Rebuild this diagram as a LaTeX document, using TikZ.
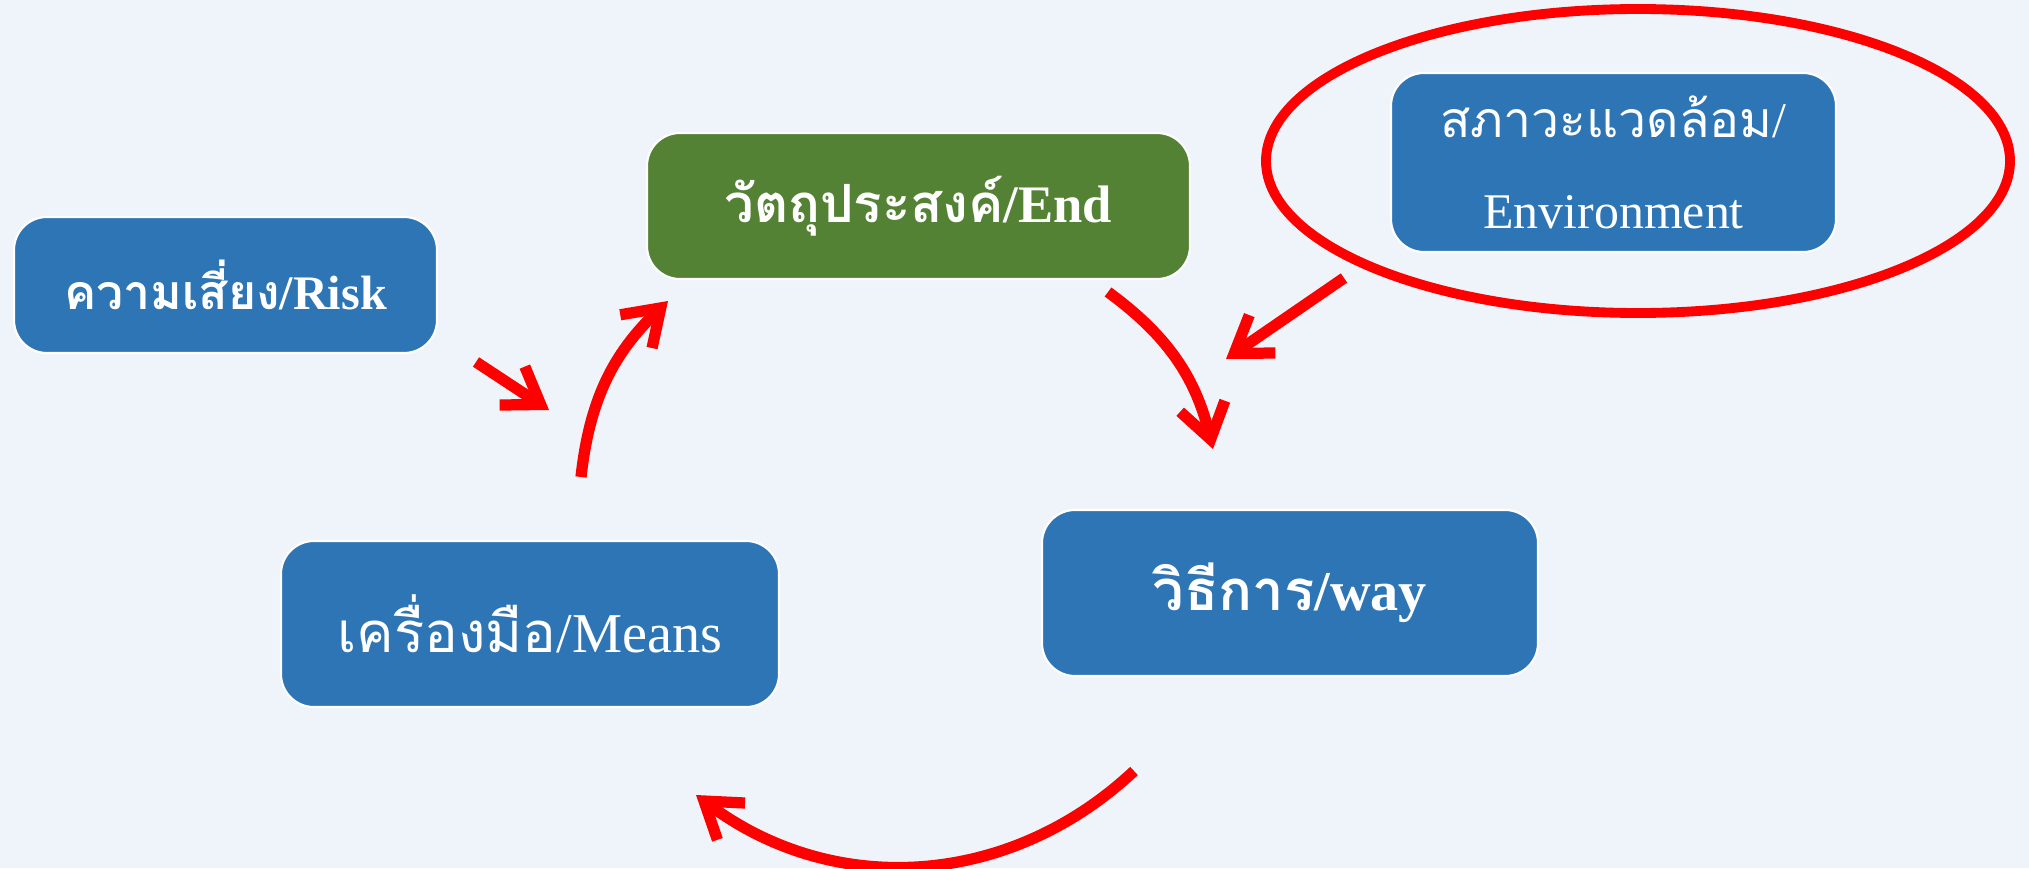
\documentclass[tikz,border=0pt]{standalone}
\usepackage{fontspec}
\setmainfont{Liberation Serif}
\newfontfamily\thaifont[Script=Thai]{Loma}
\usetikzlibrary{arrows.meta}

\definecolor{bgblue}{HTML}{EFF4FB}
\definecolor{boxblue}{HTML}{2E75B6}
\definecolor{boxgreen}{HTML}{548235}

\begin{document}
\begin{tikzpicture}[
  box/.style={rectangle, rounded corners=0.33cm, draw=white, line width=0.6pt, text=white, inner sep=0pt, align=center},
  redarrow/.style={draw=red, line width=3.2pt, -{Straight Barb[length=0.34cm, width=0.46cm]}}
]

\fill [bgblue] (0,0) rectangle (20.29,8.68);
\useasboundingbox (0,0) rectangle (20.29,8.68);

\node [box, fill=boxblue, minimum width=4.23cm, minimum height=1.36cm, font=\fontsize{13.7pt}{16pt}\selectfont\bfseries] (risk) at (2.255,5.83) {{\thaifont ความเสี่ยง}/Risk};
\node [box, fill=boxgreen, minimum width=5.43cm, minimum height=1.46cm, font=\fontsize{15pt}{18pt}\selectfont\bfseries] (end) at (9.185,6.62) {{\thaifont วัตถุประสงค์}/End};
\node [box, fill=boxblue, minimum width=4.45cm, minimum height=1.79cm, font=\fontsize{14.2pt}{26pt}\selectfont] (env) at (16.135,7.055) {{\thaifont สภาวะแวดล้อม}/\\Environment};
\node [box, fill=boxblue, minimum width=4.98cm, minimum height=1.66cm, font=\fontsize{16pt}{19pt}\selectfont] (means) at (5.30,2.44) {{\thaifont เครื่องมือ}/Means};
\node [box, fill=boxblue, minimum width=4.96cm, minimum height=1.66cm, font=\fontsize{16pt}{19pt}\selectfont\bfseries] (way) at (12.90,2.75) {{\thaifont วิธีการ}/way};

\draw [red, line width=2.8pt] (16.38,7.07) ellipse [x radius=3.72, y radius=1.52];

\coordinate (p1) at (4.76,5.06);
\coordinate (p2) at (5.49,4.58);
\coordinate (p3) at (5.81,3.91);
\coordinate (p4) at (6.68,5.67);
\coordinate (p5) at (11.08,5.76);
\coordinate (p6) at (12.13,4.19);
\coordinate (p7) at (13.44,5.90);
\coordinate (p8) at (12.26,5.09);
\coordinate (p9) at (11.34,0.97);
\coordinate (p10) at (6.96,0.73);

\draw [redarrow] (p1) -- (p2);
\draw [redarrow] (p3) to [bend left=20] (p4);
\draw [redarrow] (p5) to [bend left=20] (p6);
\draw [redarrow] (p7) -- (p8);
\draw [redarrow] (p9) to [bend left=40] (p10);

\end{tikzpicture}
\end{document}
